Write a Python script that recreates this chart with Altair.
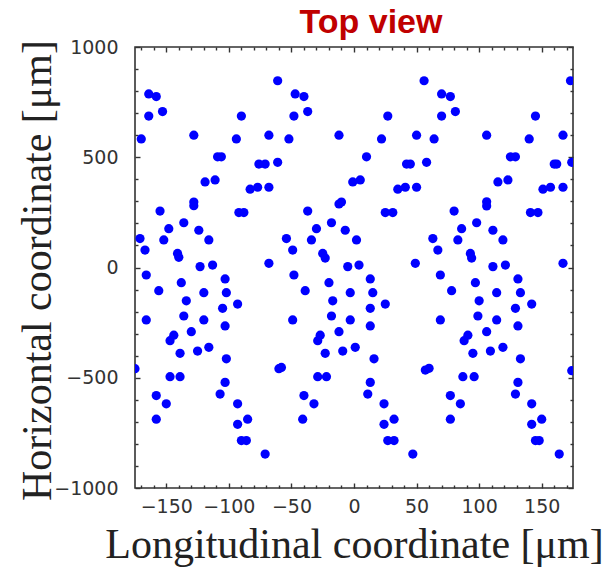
import altair as alt
import pandas as pd

# Left repeat of the pattern (µm)
x_left = [-61, -164, -158, -164, -153, -170, -128, -90, -94, -68, -109, -106, -76, -71, -61,
          -119, -111, -83, -77, -68, -128, -128, -155, -92, -88, -136, -148, -124, -171, -152,
          -116, -167, -141, -140, -123, -113, -68,
          -166, -138, -156, -120, -103, -102, -134, -93, -105, -166, -136, -120, -103, -130,
          -144, -147, -139, -125, -116, -102, -175, -147, -139, -103, -107, -158, -150, -93,
          -158, -85, -93, -90, -86, -71]
y_left = [847, 787, 775, 687, 707, 583, 600, 687, 583, 600, 502, 502, 469, 469, 477,
          388, 397, 355, 364, 364, 297, 280, 256, 249, 249, 203, 176, 169, 131, 125,
          125, 79, 64, 46, 4, 11, 19,
          -34, -69, -105, -114, -52, -114, -151, -166, -185, -238, -220, -238, -265, -291,
          -307, -332, -389, -379, -362, -414, -459, -495, -495, -521, -574, -581, -618, -618,
          -688, -688, -711, -785, -785, -846]

# Middle repeat
x_mid = [-47, -40, -48, -37, -52, -12, 27, 22, 50, 56, 10, 42, 45, 58, -1,
         5, 35, 41, 50, -12, -10, -37, 25, 31, -18, -30, -7, -54, -34, 2,
         -49, -25, -23, -5, 4, 49,
         -48, -20, -39, -3, 13, 15, -17, 25, 13, -49, -18, -3, 13, -12, -27,
         -29, -23, -9, 1, 16, -60, -58, 57, 60, -29, -22, 13, 11, -40, -32,
         24, -41, 32, 24, 27, 32, 47]
y_mid = [787, 775, 687, 707, 583, 600, 687, 583, 600, 847, 502, 469, 469, 477, 388,
         397, 355, 364, 364, 288, 297, 256, 249, 249, 203, 176, 169, 131, 125, 125,
         79, 64, 43, 4, 11, 19,
         -34, -69, -105, -114, -52, -114, -151, -166, -185, -238, -220, -238, -265, -291, -307,
         -332, -389, -379, -362, -414, -459, -453, -465, -457, -495, -495, -521, -574, -581, -618,
         -618, -688, -688, -711, -785, -785, -846]

# Right repeat
x_right = [70, 77, 70, 81, 64, 106, 145, 140, 167, 173, 125, 129, 160, 162, 174,
           115, 123, 151, 157, 167, 106, 106, 80, 141, 147, 98, 86, 111, 63, 83,
           119, 67, 93, 94, 111, 121, 167,
           69, 97, 78, 114, 131, 133, 100, 142, 129, 69, 99, 114, 131, 106, 91,
           88, 95, 109, 119, 133, 174, 87, 96, 131, 129, 77, 85, 142, 77, 150,
           142, 145, 148, 164]
y_right = [787, 775, 687, 707, 583, 600, 687, 583, 600, 847, 502, 502, 469, 469, 477,
           388, 397, 355, 364, 364, 298, 279, 256, 249, 249, 203, 176, 169, 131, 125,
           125, 79, 64, 43, 4, 11, 19,
           -34, -69, -105, -114, -52, -114, -151, -166, -185, -238, -220, -238, -265, -291, -307,
           -332, -389, -379, -362, -414, -468, -495, -495, -521, -574, -581, -618, -618, -688, -688,
           -711, -785, -785, -846]

x_ticks = list(range(-170, 171, 10))
y_ticks = list(range(-1000, 1001, 100))

df = pd.DataFrame({"x": x_left + x_mid + x_right, "y": y_left + y_mid + y_right})

xscale = alt.Scale(domain=[-175, 175], nice=False, zero=False)
yscale = alt.Scale(domain=[-1000, 1000], nice=False, zero=False)

axis_common = dict(domain=False, tickColor="#333333", tickWidth=1.4, grid=False,
                   labelFlush=False, labelOverlap=False, format="d")

x_bottom = alt.Axis(orient="bottom", values=x_ticks,
                    labelExpr="datum.value % 50 === 0 ? datum.label : ''",
                    tickSize=alt.ExprRef(expr="datum.value % 50 === 0 ? -5 : -3"),
                    labelFont="DejaVu Sans", labelFontSize=19, labelColor="#333333",
                    labelPadding=14,
                    title="Longitudinal coordinate [μm]", titleFont="Liberation Serif",
                    titleFontSize=42, titleFontWeight="normal", titleColor="#222222",
                    titleBaseline="alphabetic", titleY=69, **axis_common)
y_left_axis = alt.Axis(orient="left", values=y_ticks,
                       labelExpr="datum.value % 500 === 0 ? datum.label : ''",
                       tickSize=alt.ExprRef(expr="datum.value % 500 === 0 ? -5 : -3"),
                       labelFont="DejaVu Sans", labelFontSize=19, labelColor="#333333",
                       labelPadding=22,
                       title="Horizontal coordinate [μm]", titleFont="Liberation Serif",
                       titleFontSize=42, titleFontWeight="normal", titleColor="#222222",
                       titleBaseline="alphabetic", titleX=-85, titleY=223, **axis_common)
x_top = alt.Axis(orient="top", values=x_ticks, labels=False, title=None,
                 tickSize=alt.ExprRef(expr="datum.value % 50 === 0 ? -5 : -3"), **axis_common)
y_right_axis = alt.Axis(orient="right", values=y_ticks, labels=False, title=None,
                        tickSize=alt.ExprRef(expr="datum.value % 500 === 0 ? -5 : -3"), **axis_common)

points = alt.Chart(df).mark_circle(size=85, color="#0000ff", opacity=1, clip=True).encode(
    x=alt.X("x:Q", scale=xscale, axis=x_bottom),
    y=alt.Y("y:Q", scale=yscale, axis=y_left_axis),
)
frame_axes = alt.Chart(df).mark_circle(size=1, opacity=0, clip=True).encode(
    x=alt.X("x:Q", scale=xscale, axis=x_top),
    y=alt.Y("y:Q", scale=yscale, axis=y_right_axis),
)

chart = alt.layer(points, frame_axes).resolve_axis(
    x="independent", y="independent"
).properties(
    width=438, height=441,
    title=alt.Title("Top view", font="Liberation Sans", fontSize=34, fontWeight="bold",
                    color="#c00000", anchor="middle", dx=17, dy=10, offset=8, frame="group"),
    autosize=alt.AutoSizeParams(type="none"),
    padding={"left": 127, "top": 39, "right": 32, "bottom": 79},
).configure_view(stroke="#333333", strokeWidth=1.6)

chart.save("out.html", embed_options={"renderer": "svg", "actions": False})
